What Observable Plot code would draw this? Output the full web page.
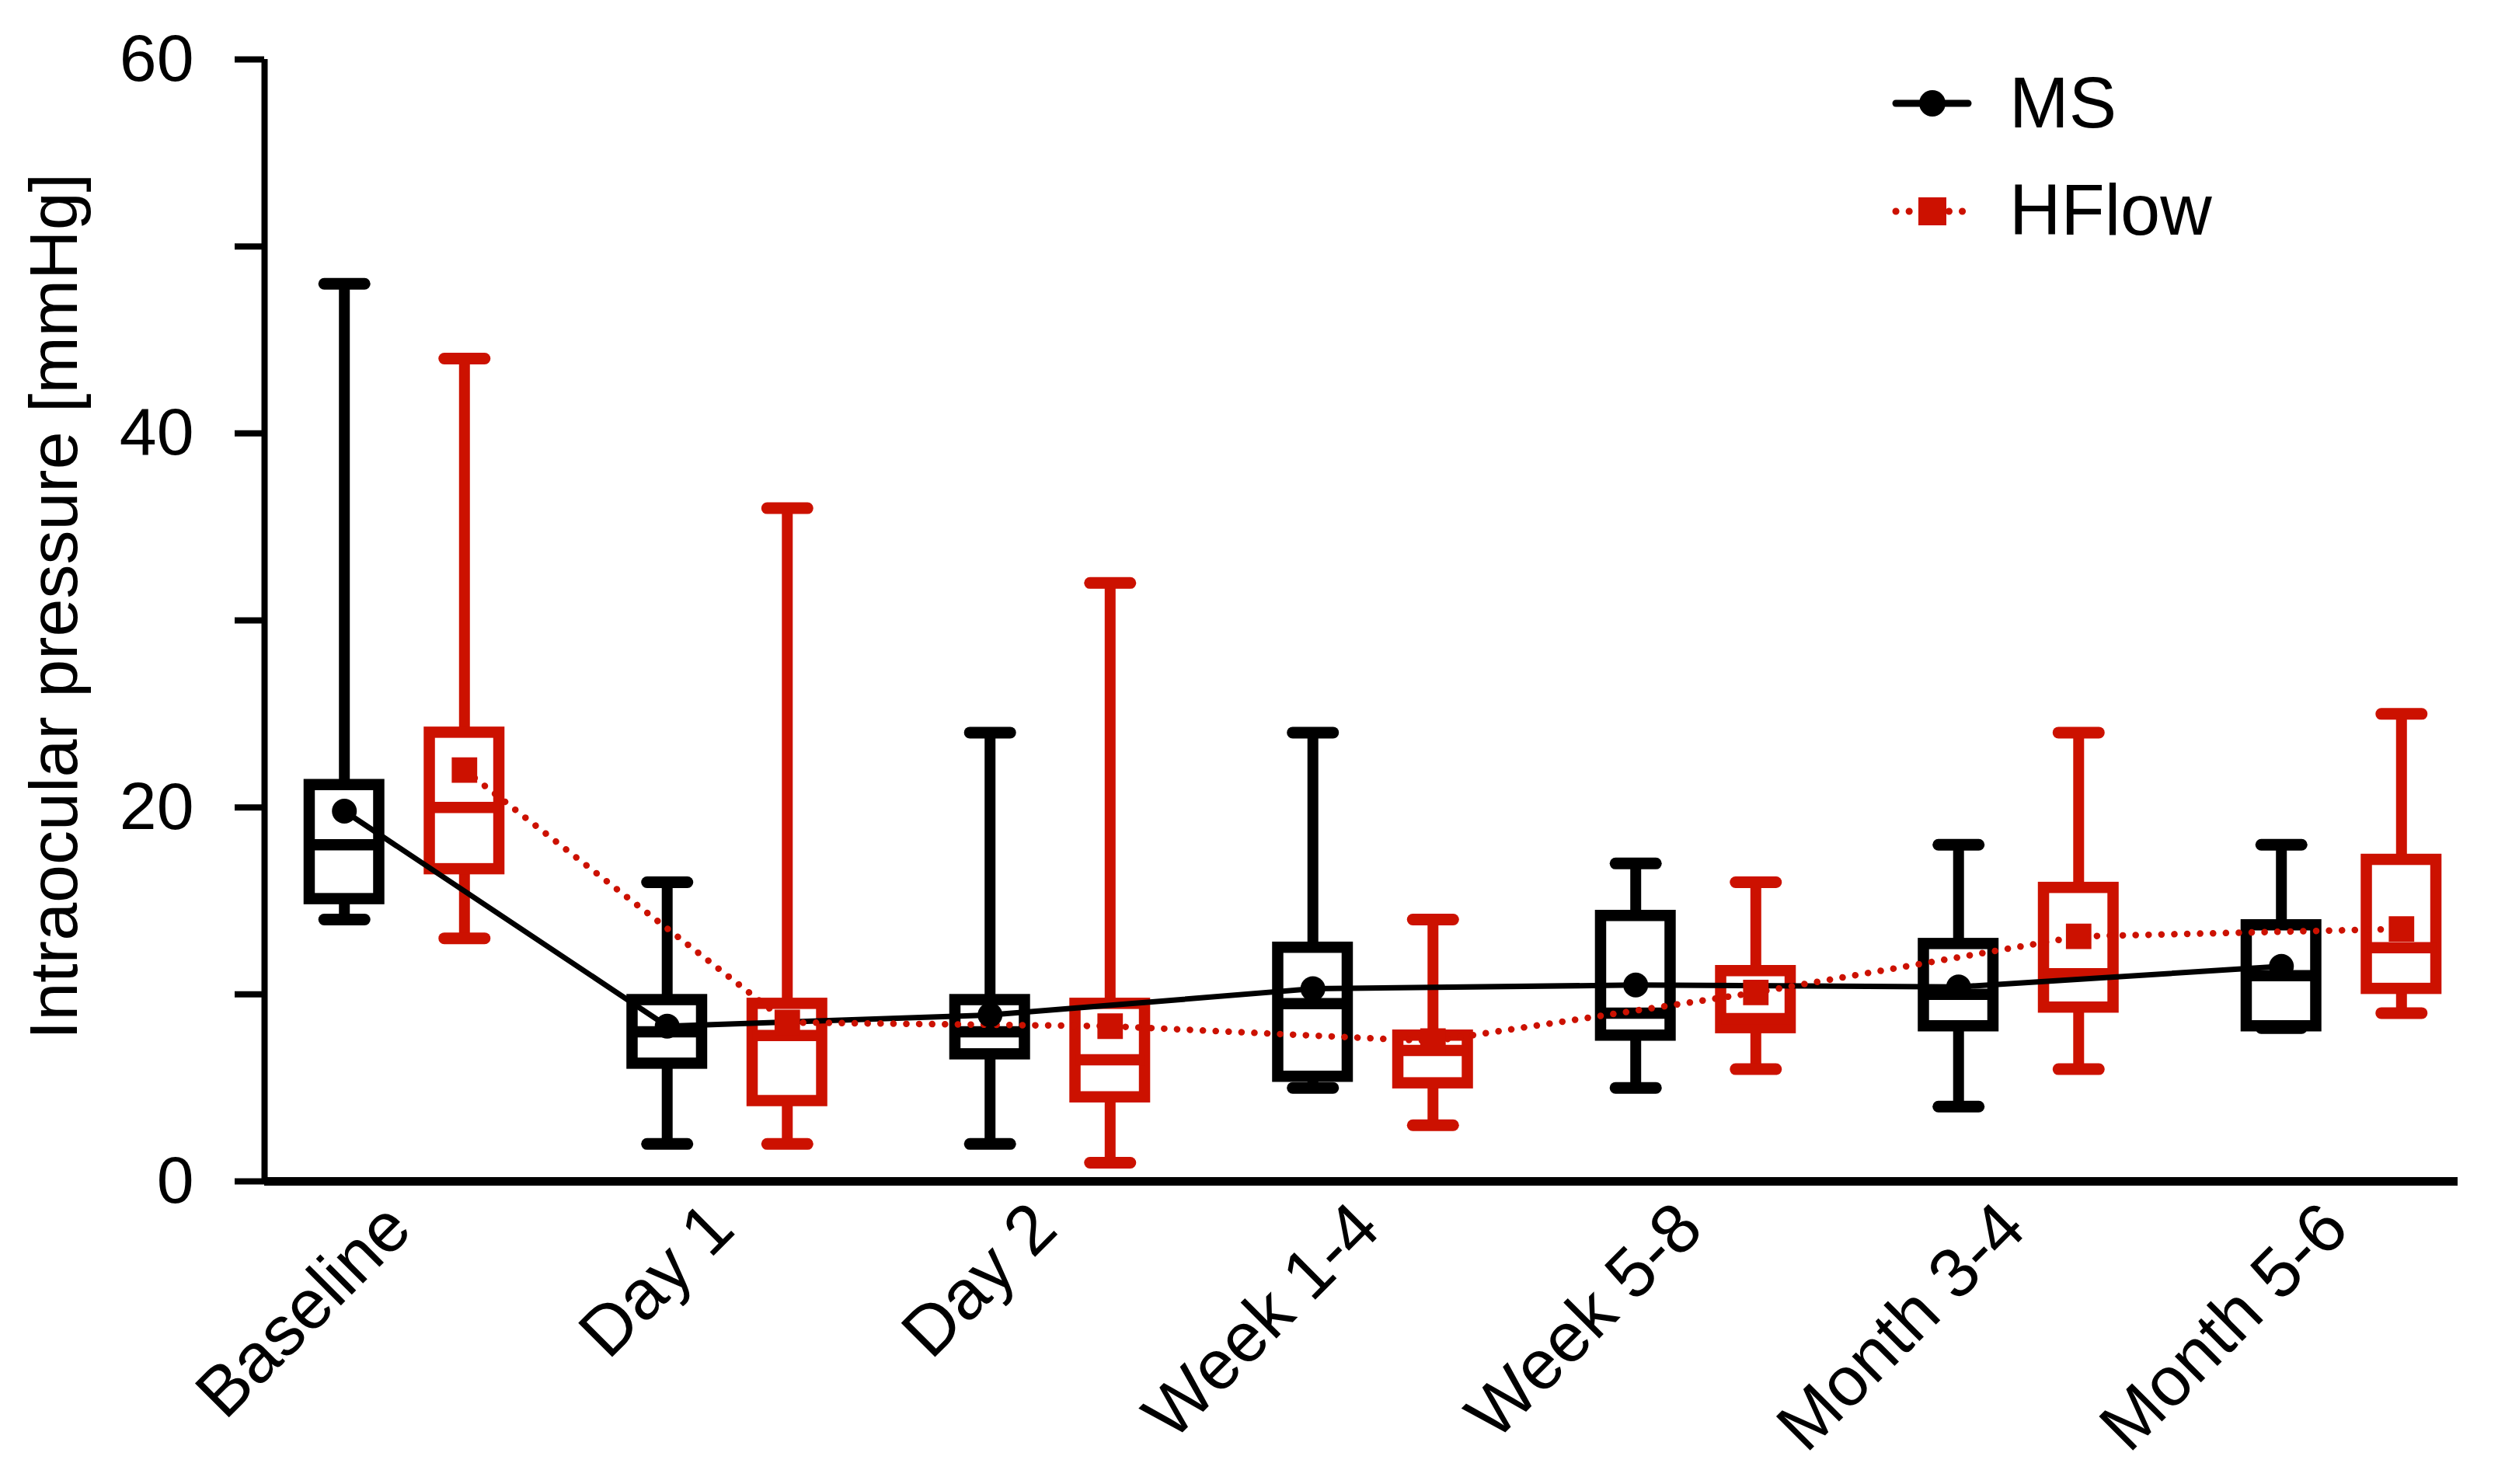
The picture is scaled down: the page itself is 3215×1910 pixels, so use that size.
<!DOCTYPE html>
<html>
<head>
<meta charset="utf-8">
<script src="https://cdn.jsdelivr.net/npm/d3@7"></script>
<script src="https://cdn.jsdelivr.net/npm/@observablehq/plot@0.6"></script>
<style>
  html, body { margin: 0; padding: 0; background: white; }
  #wrap { position: relative; width: 3215px; height: 1910px; }
  #legend { position: absolute; left: 0; top: 0; pointer-events: none; }
</style>
</head>
<body>
<div id="wrap"></div>
<script>
// ---- data ----
const categories = ["Baseline", "Day 1", "Day 2", "Week 1-4", "Week 5-8", "Month 3-4", "Month 5-6"];
const seriesNames = ["MS", "HFlow"];

const msMin    = [14,   2,   2,   5,    5,    4,    8.2];
const msQ1     = [15.1, 6.3, 6.8, 5.6,  7.8,  8.3,  8.3];
const msMedian = [18,   8.0, 8.0, 9.5,  9.0,  10.0, 11.0];
const msQ3     = [21.2, 9.7, 9.7, 12.5, 14.2, 12.7, 13.7];
const msMax    = [48,   16,  24,  24,   17,   18,   18];
const msMean   = [19.8, 8.3, 8.9, 10.3, 10.5, 10.4, 11.5];

const hfMin    = [13,   2,   1,   3,    6,    6,    9];
const hfQ1     = [16.7, 4.3, 4.5, 5.25, 8.2,  9.3,  10.3];
const hfMedian = [20,   7.8, 6.5, 7.0,  8.7,  11.1, 12.5];
const hfQ3     = [24,   9.5, 9.5, 7.8,  11.25,15.7, 17.2];
const hfMax    = [44,   36,  32,  14,   16,   24,   25];
const hfMean   = [22.0, 8.5, 8.3, 7.5,  10.1, 13.1, 13.5];

const yTicks = [0, 10, 20, 30, 40, 50, 60];
const yTickLabels = ["0", "", "20", "", "40", "", "60"];

// ---- style ----
const RED = "#CC1100";
const BLACK = "#000000";
const FONT = "'Liberation Sans', Arial, Helvetica, sans-serif";
const offset = 0.186;     // half distance between the two boxes of a group (x units)
const boxHalf = 0.1077;
const capHalf = 0.0626;

function rowsFor(name, mn, q1, med, q3, mx, mean, dir) {
  return categories.map((c, i) => ({
    cat: c, series: name, pos: i + dir * offset,
    min: mn[i], q1: q1[i], median: med[i], q3: q3[i], max: mx[i], mean: mean[i]
  }));
}
const msRows = rowsFor("MS", msMin, msQ1, msMedian, msQ3, msMax, msMean, -1);
const hfRows = rowsFor("HFlow", hfMin, hfQ1, hfMedian, hfQ3, hfMax, hfMean, +1);

const xDomain = [-0.4332, 6.361];

function boxMarks(rows, color) {
  const sw = 14.5;
  return [
    Plot.ruleX(rows, {x: "pos", y1: "q3", y2: "max", stroke: color, strokeWidth: 14}),
    Plot.ruleX(rows, {x: "pos", y1: "min", y2: "q1", stroke: color, strokeWidth: 14}),
    Plot.link(rows, {x1: d => d.pos - capHalf, x2: d => d.pos + capHalf, y1: "max", y2: "max",
      stroke: color, strokeWidth: 15, strokeLinecap: "round"}),
    Plot.link(rows, {x1: d => d.pos - capHalf, x2: d => d.pos + capHalf, y1: "min", y2: "min",
      stroke: color, strokeWidth: 15, strokeLinecap: "round"}),
    Plot.rect(rows, {x1: d => d.pos - boxHalf, x2: d => d.pos + boxHalf, y1: "q1", y2: "q3",
      fill: "none", stroke: color, strokeWidth: sw}),
    Plot.link(rows, {x1: d => d.pos - boxHalf, x2: d => d.pos + boxHalf, y1: "median", y2: "median",
      stroke: color, strokeWidth: sw})
  ];
}

const chart = Plot.plot({
  width: 3215,
  height: 1910,
  marginLeft: 340,
  marginRight: 52,
  marginTop: 76,
  marginBottom: 390,
  style: {fontFamily: FONT, color: "black", background: "white", overflow: "visible"},
  x: {type: "linear", domain: xDomain, axis: null},
  y: {type: "linear", domain: [0, 60], axis: null},
  marks: [
    Plot.axisY(yTicks, {
      tickSize: 38, tickPadding: 53, strokeWidth: 8, fontSize: 86,
      tickFormat: (d) => yTickLabels[yTicks.indexOf(d)], label: null
    }),
    Plot.ruleX([xDomain[0]], {stroke: "black", strokeWidth: 8}),
    Plot.ruleY([0], {stroke: "black", strokeWidth: 11}),
    ...boxMarks(msRows, BLACK),
    ...boxMarks(hfRows, RED),
    Plot.line(msRows, {x: "pos", y: "mean", stroke: BLACK, strokeWidth: 7}),
    Plot.line(hfRows, {x: "pos", y: "mean", stroke: RED, strokeWidth: 8.5,
      strokeDasharray: "0.1 16.5", strokeLinecap: "round"}),
    Plot.dot(msRows, {x: "pos", y: "mean", r: 16, fill: BLACK, stroke: "none"}),
    Plot.dot(hfRows, {x: "pos", y: "mean", r: 18.5, symbol: "square", fill: RED, stroke: "none"}),
    Plot.text(categories, {x: (d, i) => i, text: d => d, frameAnchor: "bottom",
      dx: 13, dy: 65, rotate: -45, textAnchor: "end", lineAnchor: "bottom",
      fontSize: 90, fill: "black"}),
    Plot.text(["Intraocular pressure [mmHg]"], {text: d => d, frameAnchor: "left",
      dx: -242, dy: -18, rotate: -90, textAnchor: "middle", lineAnchor: "bottom",
      fontSize: 88, fill: "black"})
  ]
});

const wrap = document.getElementById("wrap");
wrap.appendChild(chart);

// ---- legend (overlay) ----
const legend = d3.select(wrap).append("svg")
  .attr("id", "legend").attr("width", 3215).attr("height", 400)
  .style("font-family", FONT);

const legendItems = [
  {name: seriesNames[0], color: BLACK, dotted: false, cy: 133, baseline: 164},
  {name: seriesNames[1], color: RED, dotted: true, cy: 272, baseline: 302}
];
const lx1 = 2440, lx2 = 2533, lcx = 2487, tx = 2586;
legendItems.forEach(it => {
  const g = legend.append("g");
  g.append("line").attr("x1", lx1).attr("x2", lx2).attr("y1", it.cy).attr("y2", it.cy)
    .attr("stroke", it.color)
    .attr("stroke-width", it.dotted ? 9 : 9)
    .attr("stroke-linecap", "round")
    .attr("stroke-dasharray", it.dotted ? "0.1 17" : null);
  if (it.dotted) {
    g.append("rect").attr("x", lcx - 18).attr("y", it.cy - 18).attr("width", 36).attr("height", 36)
      .attr("fill", it.color);
  } else {
    g.append("circle").attr("cx", lcx).attr("cy", it.cy).attr("r", 17).attr("fill", it.color);
  }
  g.append("text").attr("x", tx).attr("y", it.baseline).attr("font-size", 92)
    .attr("fill", "black").text(it.name);
});
</script>
</body>
</html>
